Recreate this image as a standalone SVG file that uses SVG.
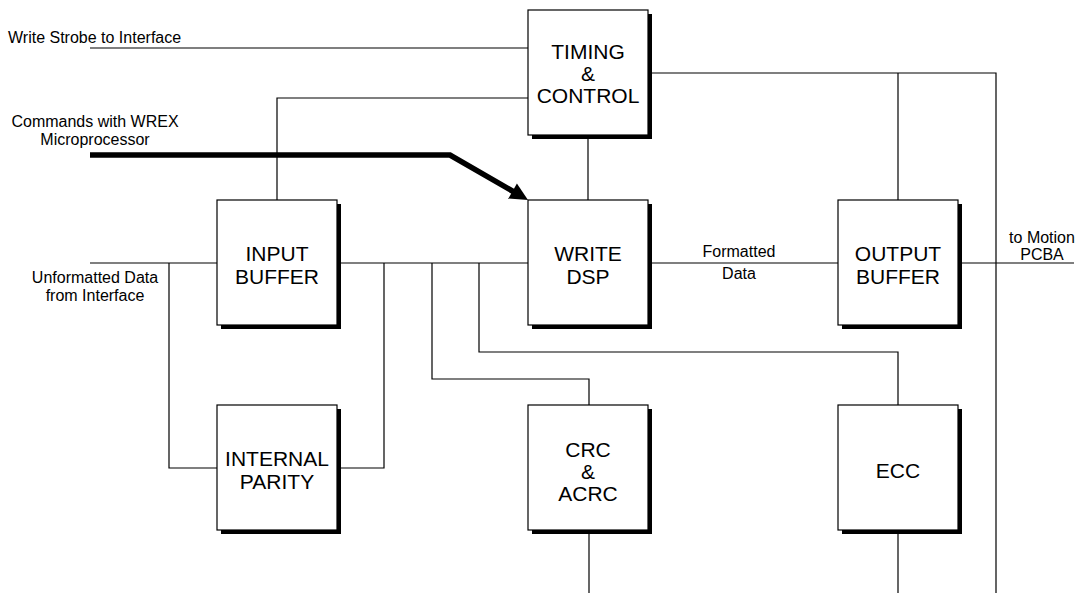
<svg xmlns="http://www.w3.org/2000/svg" width="1079" height="593" viewBox="0 0 1079 593">
<style>
.box{fill:#fff;stroke:#000;stroke-width:1.2}
.sh{fill:#000}
.bt{font-family:"Liberation Sans",Arial,sans-serif;font-size:21px;text-anchor:middle;fill:#000}
.lb{font-family:"Liberation Sans",Arial,sans-serif;font-size:16px;fill:#000}
.ln{fill:none;stroke:#000;stroke-width:1.2}
</style>
<rect width="1079" height="593" fill="#fff"/>
<g id="connectors">
<polyline class="ln" points="90,48 528,48"/>
<polyline class="ln" points="277,200 277,98 528,98"/>
<polyline class="ln" points="588,135 588,200"/>
<polyline class="ln" points="648,73 996,73 996,593"/>
<polyline class="ln" points="898,73 898,200"/>
<polyline class="ln" points="90,263 217,263"/>
<polyline class="ln" points="337,263 528,263"/>
<polyline class="ln" points="648,263 838,263"/>
<polyline class="ln" points="958,263 1074,263"/>
<polyline class="ln" points="169,263 169,468 217,468"/>
<polyline class="ln" points="337,468 384,468 384,263"/>
<polyline class="ln" points="432,263 432,379 589,379 589,405"/>
<polyline class="ln" points="479,263 479,352 898,352 898,405"/>
<polyline class="ln" points="589,530 589,593"/>
<polyline class="ln" points="898,530 898,593"/>
<polyline points="90,155 450,155 514,192" fill="none" stroke="#000" stroke-width="5.5"/>
<polygon points="528,200 508.4,198.4 516.9,183.6" fill="#000"/>
</g>
<g id="labels">
<text class="lb" x="8" y="43">Write Strobe to Interface</text>
<text class="lb" x="95" y="127" text-anchor="middle">Commands with WREX</text>
<text class="lb" x="95" y="145" text-anchor="middle">Microprocessor</text>
<text class="lb" x="95" y="283" text-anchor="middle">Unformatted Data</text>
<text class="lb" x="95" y="301" text-anchor="middle">from Interface</text>
<text class="lb" x="739" y="257" text-anchor="middle">Formatted</text>
<text class="lb" x="739" y="279" text-anchor="middle">Data</text>
<text class="lb" x="1042" y="243" text-anchor="middle">to Motion</text>
<text class="lb" x="1042" y="260" text-anchor="middle">PCBA</text>
</g>
<g id="timing">
<rect class="sh" x="532" y="14" width="120" height="125"/>
<rect class="box" x="528" y="10" width="120" height="125"/>
<text class="bt" x="588" y="59">TIMING</text>
<text class="bt" x="588" y="81">&amp;</text>
<text class="bt" x="588" y="103">CONTROL</text>
</g>
<g id="input-buffer">
<rect class="sh" x="221" y="204" width="120" height="125"/>
<rect class="box" x="217" y="200" width="120" height="125"/>
<text class="bt" x="277" y="261">INPUT</text>
<text class="bt" x="277" y="284">BUFFER</text>
</g>
<g id="write-dsp">
<rect class="sh" x="532" y="204" width="120" height="125"/>
<rect class="box" x="528" y="200" width="120" height="125"/>
<text class="bt" x="588" y="261">WRITE</text>
<text class="bt" x="588" y="284">DSP</text>
</g>
<g id="output-buffer">
<rect class="sh" x="842" y="204" width="120" height="125"/>
<rect class="box" x="838" y="200" width="120" height="125"/>
<text class="bt" x="898" y="261">OUTPUT</text>
<text class="bt" x="898" y="284">BUFFER</text>
</g>
<g id="internal-parity">
<rect class="sh" x="221" y="409" width="120" height="125"/>
<rect class="box" x="217" y="405" width="120" height="125"/>
<text class="bt" x="277" y="466">INTERNAL</text>
<text class="bt" x="277" y="489">PARITY</text>
</g>
<g id="crc">
<rect class="sh" x="532" y="409" width="120" height="125"/>
<rect class="box" x="528" y="405" width="120" height="125"/>
<text class="bt" x="588" y="457">CRC</text>
<text class="bt" x="588" y="479">&amp;</text>
<text class="bt" x="588" y="501">ACRC</text>
</g>
<g id="ecc">
<rect class="sh" x="842" y="409" width="120" height="125"/>
<rect class="box" x="838" y="405" width="120" height="125"/>
<text class="bt" x="898" y="478">ECC</text>
</g>
</svg>
